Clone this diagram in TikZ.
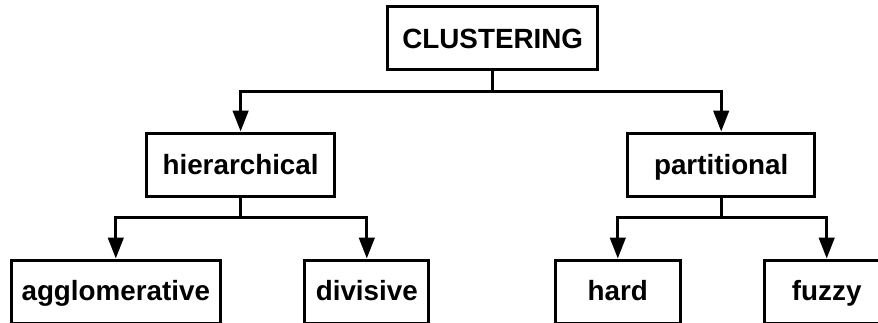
\documentclass[tikz,border=0pt]{standalone}
\usepackage{fontspec}
\setmainfont{Liberation Sans}
\usetikzlibrary{arrows.meta}
\begin{document}
\begin{tikzpicture}[x=1pt,y=-1pt,
  box/.style={draw, line width=3pt, minimum height=63pt, inner sep=0pt,
    text height=20.5pt, text depth=0pt,
    font=\fontsize{27.8}{32}\selectfont\bfseries},
  leaf/.style={box, text depth=3pt},
  link/.style={line width=3pt},
  arr/.style={link, -{Triangle[length=21pt,width=15.5pt]}}]
\useasboundingbox (0,0) rectangle (878,322);

% tree nodes
\node[box, minimum width=210.5pt] (root) at (492.7,38.1) {CLUSTERING};
\node[box, minimum width=188pt]   (hier) at (240.6,164.5) {hierarchical};
\node[box, minimum width=187.3pt] (part) at (721.2,164.5) {partitional};
\node[leaf, minimum width=209pt]   (aggl) at (115.8,291.5) {agglomerative};
\node[leaf, minimum width=124.3pt] (divi) at (366.8,291.5) {divisive};
\node[leaf, minimum width=125pt]   (hard) at (617.8,291.5) {hard};
\node[leaf, minimum width=125pt]   (fuzz) at (826.7,291.5) {fuzzy};

% branch points
\coordinate (rb) at (492.7,91);
\coordinate (hb) at (240.6,217);
\coordinate (pb) at (721.2,217);

% connectors
\draw[link] (root.south) -- (rb);
\draw[arr] (rb) -| (hier.north);
\draw[arr] (rb) -| (part.north);

\draw[link] (hier.south) -- (hb);
\draw[arr] (hb) -| (aggl.north);
\draw[arr] (hb) -| (divi.north);

\draw[link] (part.south) -- (pb);
\draw[arr] (pb) -| (hard.north);
\draw[arr] (pb) -| (fuzz.north);
\end{tikzpicture}
\end{document}
